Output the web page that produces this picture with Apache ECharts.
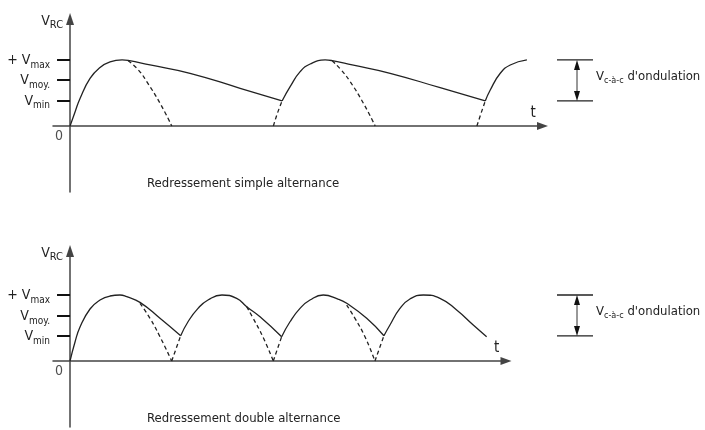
<!DOCTYPE html>
<html>
<head>
<meta charset="utf-8">
<script src="https://cdn.jsdelivr.net/npm/echarts@6/dist/echarts.min.js"></script>
<style>
html, body { margin: 0; padding: 0; background: #fff; }
#chart { width: 705px; height: 430px; }
</style>
</head>
<body>
<div id="chart"></div>
<script>
// t in ms (half period = 10 ms), V_RC in volts (Vmax = 10 V)

// --- simple alternance (top) ---
const topSolidA = [[0, 0], [0.49, 2.12], [0.98, 4.17], [1.96, 7.2], [2.94, 8.86], [3.92, 9.7], [5.1, 10], [5.69, 9.92], [7.84, 9.24], [11.76, 7.98], [16.67, 5.71], [20.78, 3.79]];
const topSolidB = [[20.78, 3.79], [21.57, 5.95], [22.55, 8.23], [23.53, 9.39], [25.0, 10], [25.69, 9.89], [27.65, 9.24], [31.37, 7.98], [36.27, 5.79], [40.69, 3.79]];
const topSolidC = [[40.69, 3.79], [41.18, 5.45], [42.16, 7.98], [43.14, 9.24], [44.77, 10]];
const topDashFall1 = [[5.69, 9.89], [6.7, 8.48], [7.52, 6.71], [8.82, 3.44], [9.97, 0]];
const topDashRise2 = [[19.93, 0], [20.32, 1.92], [20.78, 3.79]];
const topDashFall2 = [[25.69, 9.89], [26.57, 8.48], [27.45, 6.71], [28.75, 3.44], [29.9, 0]];
const topDashRise3 = [[39.87, 0], [40.29, 1.97], [40.69, 3.79]];
const topTicks = [10, 6.97, 3.8];

// --- double alternance (bottom) ---
const botSolidA = [[0, 0], [0.49, 2.88], [0.98, 5.15], [1.96, 7.88], [2.94, 9.24], [3.92, 9.85], [4.9, 10], [5.56, 9.74], [6.86, 8.89], [8.82, 6.47], [10.85, 3.83]];
const botSolidB = [[10.85, 3.83], [11.57, 5.95], [12.55, 7.98], [13.53, 9.24], [14.9, 10], [16.34, 9.5], [17.32, 8.23], [18.63, 6.71], [20.75, 3.68]];
const botSolidC = [[20.75, 3.68], [21.57, 5.95], [22.55, 7.98], [23.53, 9.24], [24.83, 10], [26.27, 9.39], [27.13, 8.74], [29.09, 6.47], [30.78, 3.83]];
const botSolidD = [[30.78, 3.83], [31.37, 5.45], [32.35, 7.98], [33.33, 9.39], [34.64, 10], [36.27, 9.5], [37.91, 7.73], [39.54, 5.45], [40.85, 3.68]];
const botDashFall1 = [[6.86, 8.74], [7.84, 6.47], [8.82, 3.68], [9.97, 0]];
const botDashRise1 = [[9.97, 0], [10.85, 3.83]];
const botDashFall2 = [[17.32, 8.23], [17.94, 6.52], [18.92, 3.64], [19.93, 0]];
const botDashRise2 = [[19.93, 0], [20.75, 3.68]];
const botDashFall3 = [[27.13, 8.48], [27.94, 6.47], [28.92, 3.68], [29.9, 0]];
const botDashRise3 = [[29.9, 0], [30.78, 3.83]];
const botTicks = [10, 6.82, 3.8];

const tickLabels = ['+ V{s|max}', 'V{s|moy.}', 'V{s|min}'];
const titles = ['Redressement simple alternance', 'Redressement double alternance'];
const rippleLabel = 'V{s|c-à-c} d\'ondulation';

const FONT = '"DejaVu Sans Condensed", "DejaVu Sans", sans-serif';
const INK = '#222';

function xAxisFor(i, max) {
  return {
    gridIndex: i, type: 'value', min: -1.67, max: max,
    axisLine: { onZero: true, symbol: ['none', 'triangle'], symbolSize: [8, 11], lineStyle: { color: '#444', width: 1.5 } },
    axisTick: { show: false }, axisLabel: { show: false }, splitLine: { show: false },
    name: 't', nameLocation: 'end', nameGap: -12, nameMoveOverlap: false,
    nameTextStyle: { fontSize: 15, color: INK, fontFamily: FONT, align: 'left', verticalAlign: 'bottom', padding: [0, 0, 5, 0] }
  };
}

function yAxisFor(i, max, ticks) {
  return {
    gridIndex: i, type: 'value', min: -10, max: max,
    axisLine: { onZero: true, symbol: ['none', 'triangle'], symbolSize: [8, 12], lineStyle: { color: '#444', width: 1.5 } },
    axisTick: { show: true, customValues: ticks, length: 13, lineStyle: { color: '#111', width: 2 } },
    axisLabel: {
      customValues: ticks, margin: 3, color: INK, fontSize: 14, fontFamily: FONT,
      formatter: function (v) { return tickLabels[ticks.indexOf(v)] || ''; },
      rich: { s: { fontSize: 10, fontFamily: FONT, color: INK, padding: [10, 0, 0, 0] } }
    },
    splitLine: { show: false },
    name: 'V{s|RC}', nameLocation: 'end', nameGap: -2, nameMoveOverlap: false,
    nameTextStyle: {
      fontSize: 14, color: INK, fontFamily: FONT, align: 'right', verticalAlign: 'middle', padding: [0, 7, 0, 0],
      rich: { s: { fontSize: 11, fontFamily: FONT, color: INK, padding: [8, 0, 0, 0] } }
    }
  };
}

function curve(i, data, dashed) {
  return {
    type: 'line', xAxisIndex: i, yAxisIndex: i, data: data,
    showSymbol: false, symbol: 'none', smooth: 0.5, silent: true,
    lineStyle: { color: INK, width: 1.3, type: dashed ? [4, 3] : 'solid' }
  };
}

function zeroLabel(i) {
  return {
    type: 'scatter', xAxisIndex: i, yAxisIndex: i, data: [[0, 0]],
    symbolSize: 0.1, itemStyle: { color: 'transparent' }, silent: true,
    label: { show: true, formatter: '0', position: 'inside', offset: [-11, 10], fontSize: 14, color: INK, fontFamily: FONT }
  };
}

const chart = echarts.init(document.getElementById('chart'));
chart.setOption({
  animation: false,
  backgroundColor: '#fff',
  title: titles.map(function (t, i) {
    return { text: t, left: 142, top: i === 0 ? 172 : 407, textStyle: { fontSize: 13, fontWeight: 'normal', color: INK, fontFamily: FONT } };
  }),
  grid: [
    { left: 53, width: 489.5, top: 19, height: 173, outerBoundsMode: 'none' },
    { left: 53, width: 453, top: 251, height: 176, outerBoundsMode: 'none' }
  ],
  xAxis: [xAxisFor(0, 46.3), xAxisFor(1, 42.75)],
  yAxis: [yAxisFor(0, 16.2, topTicks), yAxisFor(1, 16.67, botTicks)],
  series: [
    curve(0, topSolidA), curve(0, topSolidB), curve(0, topSolidC),
    curve(0, topDashFall1, true), curve(0, topDashRise2, true), curve(0, topDashFall2, true), curve(0, topDashRise3, true),
    curve(1, botSolidA), curve(1, botSolidB), curve(1, botSolidC), curve(1, botSolidD),
    curve(1, botDashFall1, true), curve(1, botDashRise1, true), curve(1, botDashFall2, true),
    curve(1, botDashRise2, true), curve(1, botDashFall3, true), curve(1, botDashRise3, true),
    zeroLabel(0), zeroLabel(1)
  ]
});

// peak-to-peak ripple annotation, placed from the axis scales
const graphics = [];
[topTicks, botTicks].forEach(function (ticks, i) {
  const yHi = chart.convertToPixel({ yAxisIndex: i }, ticks[0]);
  const yLo = chart.convertToPixel({ yAxisIndex: i }, ticks[2]);
  graphics.push(
    { type: 'line', shape: { x1: 557, y1: yHi, x2: 593, y2: yHi }, style: { stroke: INK, lineWidth: 1.3 } },
    { type: 'line', shape: { x1: 557, y1: yLo, x2: 593, y2: yLo }, style: { stroke: INK, lineWidth: 1.3 } },
    { type: 'line', shape: { x1: 577, y1: yHi + 8, x2: 577, y2: yLo - 8 }, style: { stroke: '#333', lineWidth: 1 } },
    { type: 'polygon', shape: { points: [[577, yHi], [574, yHi + 10], [580, yHi + 10]] }, style: { fill: '#111' } },
    { type: 'polygon', shape: { points: [[577, yLo], [574, yLo - 10], [580, yLo - 10]] }, style: { fill: '#111' } },
    {
      type: 'text', x: 596, y: (yHi + yLo) / 2 - 4,
      style: {
        text: rippleLabel, fontSize: 13, fontFamily: FONT, fill: INK, verticalAlign: 'middle',
        rich: { s: { fontSize: 9, fontFamily: FONT, padding: [8, 0, 0, 0] } }
      }
    }
  );
});
chart.setOption({ graphic: graphics });
</script>
</body>
</html>
